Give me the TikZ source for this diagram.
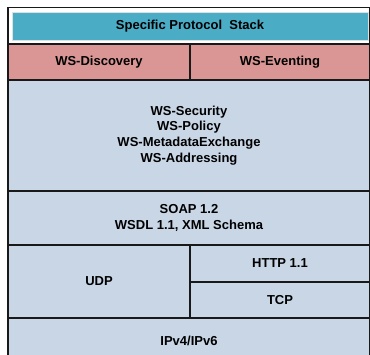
\documentclass[tikz,border=0pt]{standalone}
\usepackage{fontspec}
\setmainfont{Liberation Sans}
\usepackage{tikz}
\definecolor{stackcyan}{RGB}{75,172,198}
\definecolor{stackpink}{RGB}{217,150,148}
\definecolor{stackblue}{RGB}{200,214,230}
\begin{document}
\begin{tikzpicture}[x=1pt,y=-1pt,
    layer/.style={draw=black!90, line width=1.2pt, fill=stackblue,
      anchor=north west, outer sep=0pt, inner sep=0pt, align=center,
      font=\fontsize{13}{15.7}\selectfont\bfseries}]
      \useasboundingbox (0,0) rectangle (370,354);
      \node[layer, fill=white, minimum width=362pt, minimum height=36.5pt] (head) at (8,7.5) {};
      \node[layer, fill=stackcyan, draw=black!12, line width=.6pt,
        minimum width=356pt, minimum height=28pt] (title) at (12,12) {Specific Protocol\ \ Stack};
      \node[layer, fill=stackpink, minimum width=182pt, minimum height=36pt] (disc) at (8,44) {WS-Discovery};
      \node[layer, fill=stackpink, minimum width=180pt, minimum height=36pt] (event) at (190,44) {WS-Eventing};
      \node[layer, minimum width=362pt, minimum height=111pt] (wsstack) at (8,80)
      {WS-Security\\ WS-Policy\\ WS-MetadataExchange\\ WS-Addressing};
      \node[layer, minimum width=362pt, minimum height=54pt] (soap) at (8,191)
      {SOAP 1.2\\ WSDL 1.1, XML Schema};
      \node[layer, minimum width=182pt, minimum height=73pt] (udp) at (8,245) {UDP};
      \node[layer, minimum width=180pt, minimum height=37pt] (http) at (190,245) {HTTP 1.1};
      \node[layer, minimum width=180pt, minimum height=36pt] (tcp) at (190,282) {TCP};
      \node[layer, minimum width=362pt, minimum height=45pt] (ip) at (8,318) {IPv4/IPv6};
\end{tikzpicture}
\end{document}
